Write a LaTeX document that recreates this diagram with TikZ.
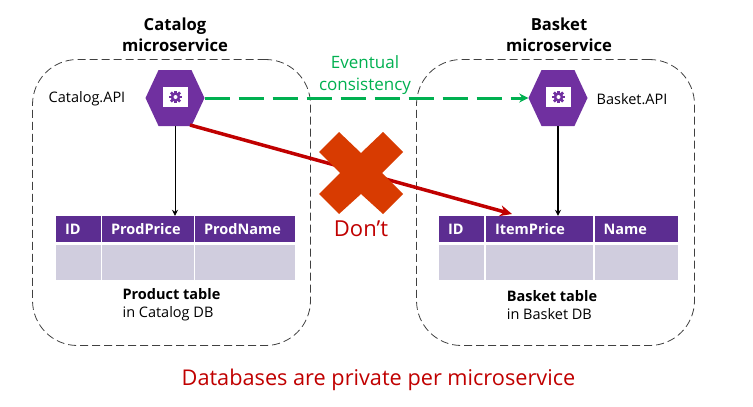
\documentclass[tikz,border=0pt]{standalone}
\usepackage{fontspec}
\setmainfont{Open Sans}
\usetikzlibrary{arrows.meta,shapes.symbols}
\definecolor{hexpurple}{HTML}{7030A0}
\definecolor{headpurple}{HTML}{5C2D91}
\definecolor{bodygray}{HTML}{D0CDDE}
\definecolor{dontred}{HTML}{C00000}
\definecolor{crossred}{HTML}{D83B01}
\definecolor{okgreen}{HTML}{00B050}
\tikzset{
	svcbox/.style={draw=black!75,line width=0.8pt,dash pattern=on 8pt off 4pt,rounded corners=45pt,inner sep=0pt,minimum width=278pt,minimum height=286pt},
	apihex/.style={signal,signal to=east and west,signal pointer angle=130,fill=hexpurple,inner sep=0pt,minimum width=59pt,minimum height=56pt},
	iconbox/.style={fill=white,inner sep=0pt,minimum width=25pt,minimum height=20pt},
	headcell/.style={fill=headpurple,text=white,font=\fontsize{14.5}{16}\selectfont\bfseries,inner ysep=0pt,inner xsep=9pt,text width=#1-18pt,align=left,minimum height=26pt,text height=13pt,text depth=2pt},
	bodycell/.style={fill=bodygray,inner sep=0pt,minimum width=#1,minimum height=35pt},
	title/.style={font=\fontsize{16.6}{21}\selectfont\bfseries,align=center},
	apilabel/.style={font=\fontsize{14.5}{16}\selectfont},
	tablelabel/.style={font=\fontsize{14.5}{18}\selectfont,align=left},
	gearicon/.pic={
		\foreach \a in {0,45,90,135} \fill[hexpurple,rotate=\a] (-1.4,-6.4) rectangle (1.4,6.4);
		\fill[hexpurple] (0,0) circle (4.8);
		\fill[white] (0,0) circle (2);
	}
}
\begin{document}
\begin{tikzpicture}[x=1pt,y=-1pt]
	\useasboundingbox (0,0) rectangle (753,407);
	\node at (171.5,202.5) (catalogbox) [svcbox] {};
	\node at (555.5,202.5) (basketbox) [svcbox] {};
	\node at (175,34.5) (catalogtitle) [title] {Catalog\\microservice};
	\node at (559,34.5) (baskettitle) [title] {Basket\\microservice};
	\node at (175,98) (catalogapi) [apihex] {};
	\node at (558,98) (basketapi) [apihex] {};
	\node at (175.5,97) (catalogicon) [iconbox] {};
	\node at (558.5,97) (basketicon) [iconbox] {};
	\pic at (175.5,97) {gearicon};
	\pic at (558.5,97) {gearicon};
	\node at (87,99) (cataloglabel) [apilabel] {Catalog.API};
	\node at (632,99) (basketlabel) [apilabel] {Basket.API};
	\node at (365,75) (eventual) [font=\fontsize{17}{22}\selectfont,align=center,text=okgreen] {Eventual\\consistency};
	\node at (78.5,229) (prodid) [headcell=45pt] {ID};
	\node at (148,229) (prodprice) [headcell=92pt] {ProdPrice};
	\node at (245,229) (prodname) [headcell=100pt] {ProdName};
	\node at (78.5,262.5) (prodidbody) [bodycell=45pt] {};
	\node at (148,262.5) (prodpricebody) [bodycell=92pt] {};
	\node at (245,262.5) (prodnamebody) [bodycell=100pt] {};
	\node at (461.5,229) (basketid) [headcell=45pt] {ID};
	\node at (539.5,229) (itemprice) [headcell=107pt] {ItemPrice};
	\node at (636.3,229) (itemname) [headcell=83.5pt] {Name};
	\node at (461.5,262.5) (basketidbody) [bodycell=45pt] {};
	\node at (539.5,262.5) (itempricebody) [bodycell=107pt] {};
	\node at (636.3,262.5) (itemnamebody) [bodycell=83.5pt] {};
	\node at (171.5,305) (producttable) [tablelabel] {\textbf{Product table}\\in Catalog DB};
	\node at (552,305) (baskettable) [tablelabel] {\textbf{Basket table}\\in Basket DB};
	\path (catalogapi.south) edge[-{Stealth[length=6pt,width=6pt]},line width=0.8pt] (catalogapi.south |- prodprice.north);
	\path (basketapi.south) edge[-{Stealth[length=6pt,width=6pt]},line width=1.1pt] (basketapi.south |- itemprice.north);
	\path (catalogapi.east) edge[-{Stealth[length=9pt,width=9pt]},draw=okgreen,line width=3pt,dash pattern=on 25pt off 9pt] (basketapi.west);
	\coordinate (redstart) at (190,125);
	\coordinate (redend) at (512,214);
	\path (redstart) edge[-{Stealth[length=12pt,width=11pt]},draw=dontred,line width=3.5pt] (redend);
	\fill[crossred] (361,153) -- (383,132) -- (403,152) -- (382,173) -- (403,194) -- (383,214) -- (361,194) -- (339,214) -- (319,194) -- (340,173) -- (319,152) -- (339,132) -- cycle;
	\node at (361,229) (dont) [font=\fontsize{22}{24}\selectfont,text=dontred] {Don’t};
	\node at (378.5,380) (private) [font=\fontsize{21.7}{24}\selectfont,text=dontred] {Databases are private per microservice};
\end{tikzpicture}
\end{document}
